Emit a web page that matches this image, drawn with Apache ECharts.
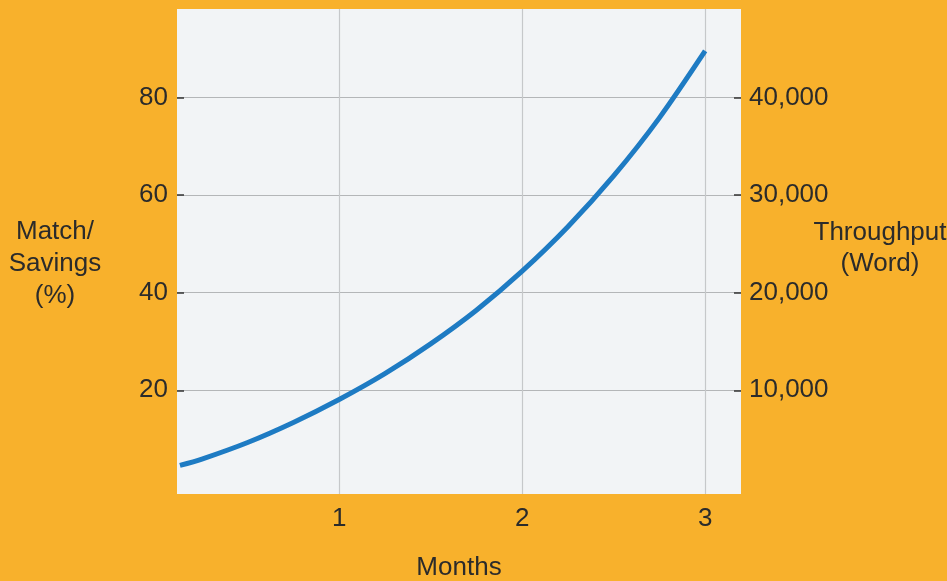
<!DOCTYPE html>
<html>
<head>
<meta charset="utf-8">
<script src="https://cdn.jsdelivr.net/npm/echarts@6/dist/echarts.min.js"></script>
<style>
html,body{margin:0;padding:0;background:#F8B12C;}
#c{width:947px;height:581px;}
</style>
</head>
<body>
<div id="c"></div>
<script>
// Data
const months = [0.13, 0.25, 0.50, 0.75, 1.00, 1.25, 1.50, 1.75, 2.00, 2.25, 2.50, 2.75, 3.00];
const matchSavings = [4.6, 5.9, 9.3, 13.4, 18.1, 23.4, 29.5, 36.4, 44.4, 53.5, 63.9, 75.8, 89.5];
const xTicks = [1, 2, 3];
const leftTicks = [20, 40, 60, 80];
const rightTicks = [10000, 20000, 30000, 40000];

const FONT = '"Liberation Sans", Arial, sans-serif';
const TXT = '#2b2b2b';

const chart = echarts.init(document.getElementById('c'));
chart.setOption({
  backgroundColor: '#F8B12C',
  animation: false,
  textStyle: { fontFamily: FONT },
  grid: {
    left: 177, right: 206, top: 9, bottom: 87,
    show: true, backgroundColor: '#F2F4F6', borderWidth: 0
  },
  xAxis: {
    type: 'value', min: 0.114, max: 3.196,
    axisLine: { show: false },
    axisTick: { show: false, customValues: xTicks },
    axisLabel: { customValues: xTicks, color: TXT, fontSize: 26, fontFamily: FONT, margin: 12 },
    splitLine: { show: true, lineStyle: { color: '#C6C8CA', width: 1.2 } }
  },
  yAxis: [
    {
      type: 'value', min: -1.25, max: 98.1, position: 'left',
      axisLine: { show: false },
      axisTick: { show: true, inside: true, length: 7, customValues: leftTicks, lineStyle: { color: '#333', width: 1.5 } },
      axisLabel: { customValues: leftTicks, color: TXT, fontSize: 26, fontFamily: FONT, margin: 9 },
      splitLine: { show: true, lineStyle: { color: '#B4B6B8', width: 1.2 } }
    },
    {
      type: 'value', min: -625, max: 49050, position: 'right',
      axisLine: { show: false },
      axisTick: { show: true, inside: true, length: 7, customValues: rightTicks, lineStyle: { color: '#333', width: 1.5 } },
      axisLabel: {
        customValues: rightTicks, color: TXT, fontSize: 26, fontFamily: FONT, margin: 8,
        formatter: v => v.toLocaleString('en-US')
      },
      splitLine: { show: false }
    }
  ],
  graphic: [
    { type: 'text', x: 55, y: 264, style: { text: 'Match/\nSavings\n(%)', fill: TXT, font: '26px ' + FONT, align: 'center', verticalAlign: 'middle', lineHeight: 32 } },
    { type: 'text', x: 880, y: 248, style: { text: 'Throughput\n(Word)', fill: TXT, font: '26px ' + FONT, align: 'center', verticalAlign: 'middle', lineHeight: 31 } },
    { type: 'text', x: 459, y: 568, style: { text: 'Months', fill: TXT, font: '26px ' + FONT, align: 'center', verticalAlign: 'middle' } }
  ],
  series: [{
    type: 'line',
    yAxisIndex: 0,
    data: months.map((m, i) => [m, matchSavings[i]]),
    smooth: 0.3,
    showSymbol: false,
    lineStyle: { color: '#1E7BC3', width: 5 },
    itemStyle: { color: '#1E7BC3' }
  }]
});
</script>
</body>
</html>
